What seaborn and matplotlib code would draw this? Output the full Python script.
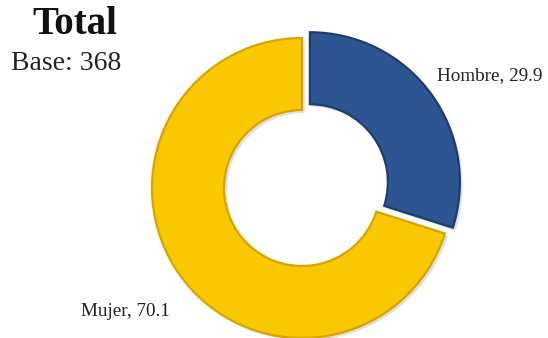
import matplotlib
matplotlib.use("Agg")
import matplotlib.pyplot as plt
import matplotlib.patheffects as pe
import seaborn as sns

categories = ["Hombre", "Mujer"]
values = [29.9, 70.1]
title = "Total"
subtitle = "Base: 368"

sns.set_theme(style="white")
plt.rcParams["font.family"] = ["Liberation Serif", "DejaVu Serif"]

colors = ["#2C5592", "#F9C800"]
edges = ["#1E3D6E", "#D9A400"]

W, H = 548, 338
R = 150.0          # outer radius in pixels
cx, cy = 302, 150  # donut centre (pixels from bottom-left)

fig = plt.figure(figsize=(W / 100, H / 100), dpi=100)
ax = fig.add_axes([0, 0, 1, 1])

wedges, _ = ax.pie(
    values,
    colors=colors,
    startangle=90,
    counterclock=False,
    explode=[0.065, 0.0],
    radius=1.0,
    wedgeprops=dict(width=0.48, linewidth=1.6),
)
for w, ec in zip(wedges, edges):
    w.set_edgecolor(ec)
    w.set_path_effects([
        pe.SimplePatchShadow(offset=(2, -2), shadow_rgbFace="#999999", alpha=0.3),
        pe.Normal(),
    ])

ax.set_xlim(-cx / R, (W - cx) / R)
ax.set_ylim(-cy / R, (H - cy) / R)
ax.set_aspect("equal")
ax.axis("off")

# slice labels
ax.text((437 - cx) / R, (H - 76 - cy) / R, f"{categories[0]}, {values[0]}",
        fontsize=13.8, color="#222222", ha="left", va="center")
ax.text((81 - cx) / R, (H - 311 - cy) / R, f"{categories[1]}, {values[1]}",
        fontsize=13.8, color="#222222", ha="left", va="center")

# headings
fig.text(75 / W, 1 - 25 / H, title, fontsize=28, fontweight="bold",
         ha="center", va="center", color="#111111")
fig.text(66 / W, 1 - 63 / H, subtitle, fontsize=20,
         ha="center", va="center", color="#222222")

fig.savefig("out.png", dpi=100, facecolor="white")
